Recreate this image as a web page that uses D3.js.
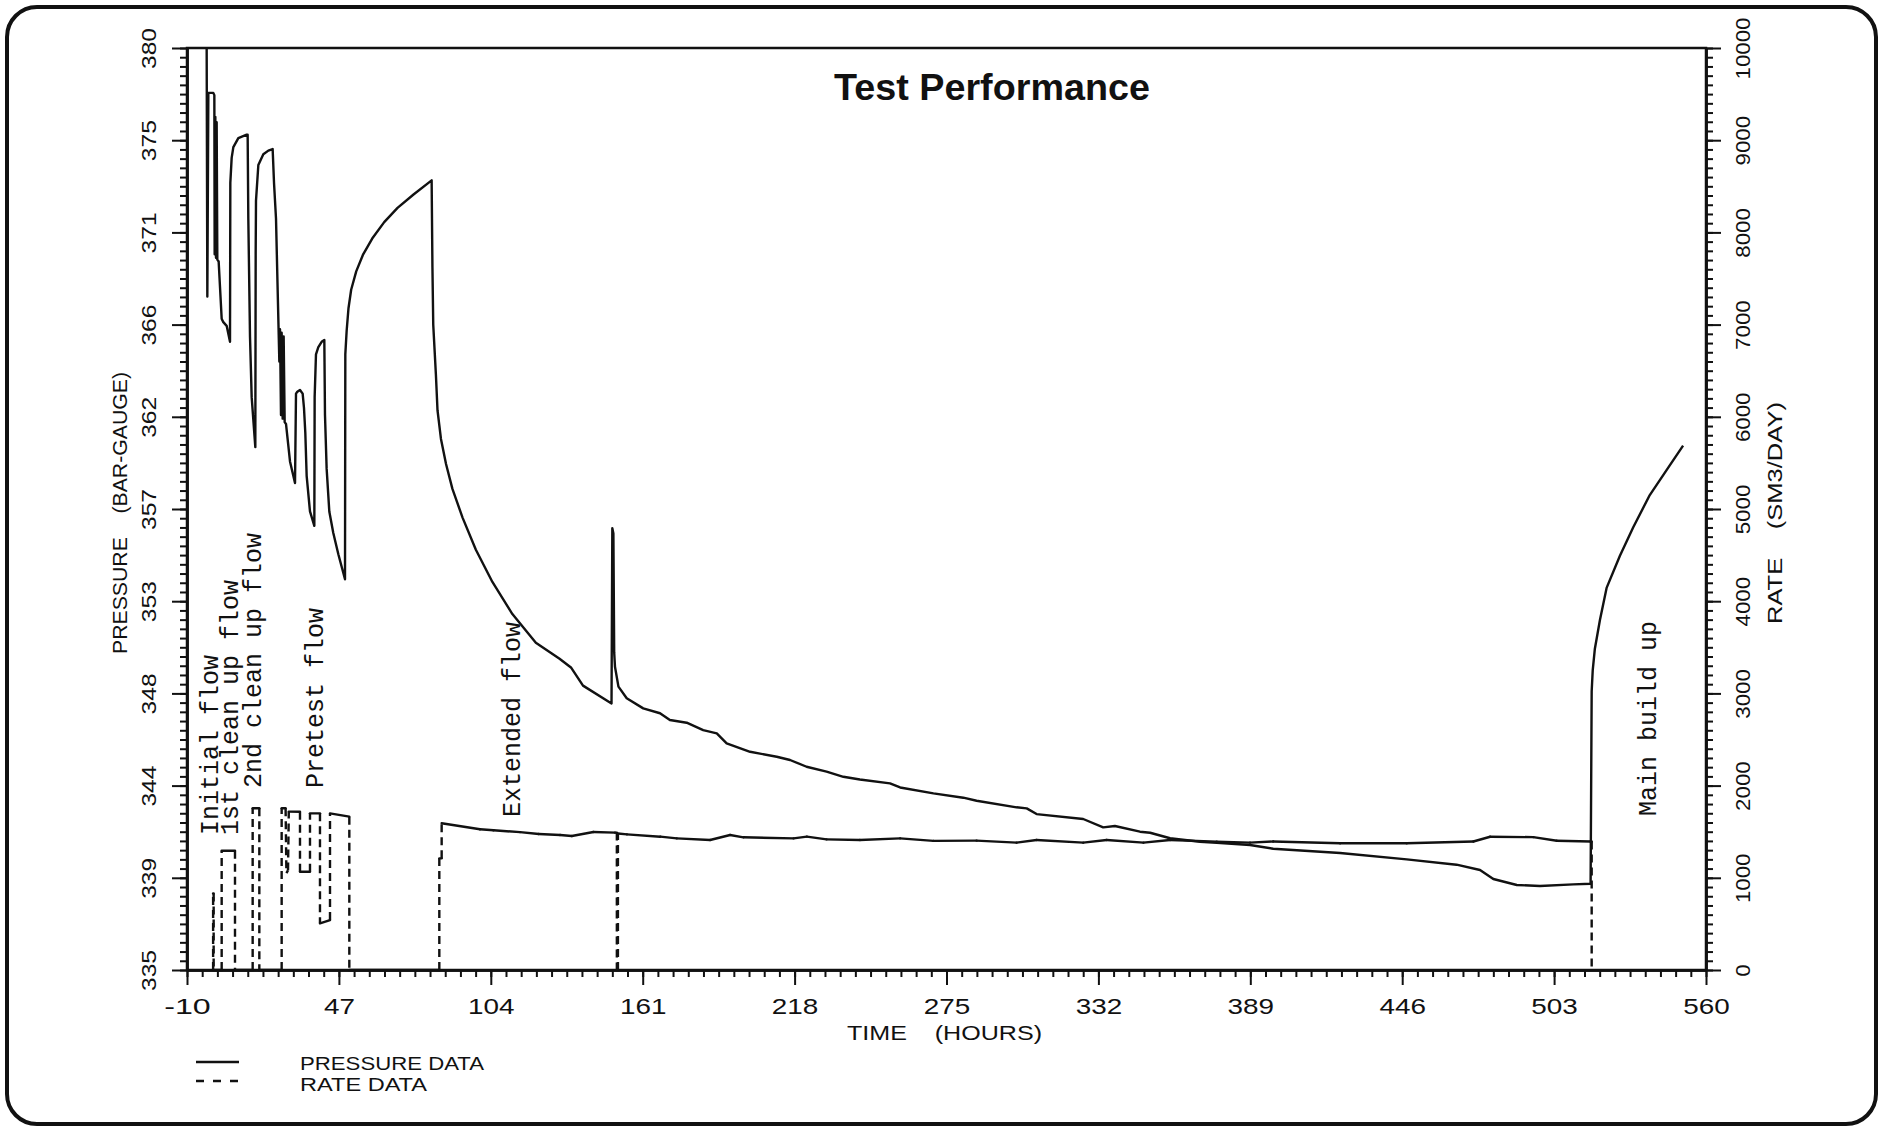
<!DOCTYPE html>
<html><head><meta charset="utf-8">
<script src="https://cdn.jsdelivr.net/npm/d3@7"></script>
<style>
html,body{margin:0;padding:0;background:#fff;}
svg{display:block;}
text{fill:#111;}
</style></head>
<body><svg id="chart" width="1883" height="1130"></svg>
<script>
// ---------- tick values / labels ----------
const timeTicks = [-10, 47, 104, 161, 218, 275, 332, 389, 446, 503, 560];
const pressureTicks = [335, 339.5, 344, 348.5, 353, 357.5, 362, 366.5, 371, 375.5, 380];
const pressureTickLabels = ["335","339","344","348","353","357","362","366","371","375","380"];
const rateTicks = [0,1000,2000,3000,4000,5000,6000,7000,8000,9000,10000];

// ---------- pressure series (hours, bar-gauge) ----------
const pressureHours = [-2.62,-2.37,-1.99,-0.12,0.26,0.38,0.63,0.88,1.13,1.38,1.88,3.01,3.63,4.88,6.14,6.26,6.76,7.39,9.26,12.39,
  12.76,13.01,13.64,14.27,15.64,15.77,15.89,16.77,18.64,20.52,22.14,22.65,23.4,24.02,24.65,24.9,25.27,25.52,25.9,26.27,
  26.65,27.15,28.65,30.53,30.9,31.4,32.4,33.4,33.9,34.4,34.9,36.15,37.78,37.9,38.4,39.28,40.53,41.53,41.78,42.4,
  43.4,44.9,46.79,49.29,49.41,49.91,50.6,51.6,53.5,56.0,59.5,64.0,69.0,75.0,81.8,82.1,82.4,83.4,84.0,85.3,87.2,89.6,
  93.4,98.4,104.6,112.1,120.9,129.8,134.2,138.6,149.3,149.6,150.0,150.3,150.6,151.9,155.0,161.2,167.5,171.2,177.5,183.7,
  188.8,192.5,201.3,211.3,216.3,222.5,230.0,236.3,242.5,253.8,257.6,270.1,281.3,286.3,301.3,305.1,308.8,326.3,333.8,338.2,
  347.6,351.4,358.9,370.1,376.4,388.9,397.6,422.7,447.7,466.4,475.2,480.2,489.0,497.7,510.2,516.7,517.1,517.5,518.3,520.2,
  522.7,527.7,532.7,538.9,545.2,551.4];
const pressureBar = [380.0,367.87,377.81,377.81,377.7,369.93,376.64,369.76,376.38,369.67,369.58,366.79,366.62,366.44,365.66,373.42,374.64,375.16,375.6,375.77,
  375.77,371.67,365.92,362.96,360.52,369.93,372.55,374.29,374.81,374.99,375.07,373.42,371.67,368.19,364.7,366.27,362.09,366.1,361.91,365.92,
  361.74,361.65,359.82,358.77,363.13,363.22,363.31,363.13,362.43,361.21,359.12,357.38,356.68,362.96,365.05,365.4,365.66,365.75,362.09,359.47,
  357.38,356.33,355.29,354.07,365.05,366.2,367.3,368.2,369.1,369.9,370.7,371.5,372.2,372.85,373.54,369.3,366.5,364.06,362.32,360.92,359.7,358.48,
  357.08,355.51,353.94,352.37,350.97,350.19,349.75,348.88,348.01,356.56,356.3,350.5,349.8,348.83,348.26,347.77,347.53,347.2,347.07,346.71,
  346.55,346.06,345.65,345.41,345.25,344.92,344.68,344.43,344.3,344.11,343.91,343.62,343.41,343.26,342.94,342.89,342.61,342.37,341.96,342.03,
  341.75,341.7,341.43,341.26,341.21,341.1,340.92,340.71,340.4,340.14,339.88,339.44,339.15,339.1,339.18,339.21,348.6,349.64,350.68,352.08,
  353.65,355.22,356.61,358.18,359.4,360.59];

// ---------- rate series (hours, SM3/day) ----------
const rateHours = [-0.2,-0.2,0.0,0.0,3.01,3.01,8.01,8.01,14.64,14.64,17.14,17.14,25.52,25.52,27.0,27.3,27.9,28.2,32.4,32.4,
  36.15,36.15,39.9,39.9,43.66,43.66,50.91,50.91,84.68,84.68,85.56,85.56,99.95,105,115,122,130,134.4,142.5,150.6,
  151.3,151.3,151.7,151.7,155.1,167.6,173.8,186.3,193.8,198.8,217.6,222.6,230.0,242.5,257.6,270.1,286.3,301.3,308.8,326.3,
  335.1,348.9,358.9,376.4,388.9,397.6,422.7,447.7,472.7,479.0,495.2,504.0,516.7,517.1,517.1];
const rateSm3 = [0,831,831,0,0,1294,1294,0,0,1754,1754,0,0,1754,1754,1050,1080,1718,1717,1066,
  1066,1699,1699,506,542,1699,1663,0,0,1211,1211,1591,1526,1515,1495,1475,1464,1453,1497,1490,
  1490,0,0,1480,1471,1446,1428,1410,1464,1439,1428,1446,1417,1410,1428,1400,1403,1381,1410,1381,
  1410,1381,1410,1392,1381,1394,1375,1375,1394,1445,1441,1402,1394,1394,0];

// ---------- annotations ----------
const phaseLabels = ["Initial flow","1st clean up flow","2nd clean up flow","Pretest flow","Extended flow","Main build up"];
const phaseHours  = [1.8, 9.3, 17.8, 41.0, 114.8, 541.2];
const phasePressure = [341.59, 341.59, 343.88, 343.88, 342.47, 342.52];

const ink = "#111";
const svg = d3.select("#chart");
const x  = d3.scaleLinear().domain([-10, 560]).range([187, 1706]);
const yP = d3.scaleLinear().domain([335, 380]).range([970, 48]);
const yR = d3.scaleLinear().domain([0, 10000]).range([970, 48]);

// outer rounded border
svg.append("rect").attr("x", 7).attr("y", 7).attr("width", 1869).attr("height", 1117)
  .attr("rx", 30).attr("fill", "none").attr("stroke", ink).attr("stroke-width", 4);

// plot frame
svg.append("rect").attr("x", x(-10)).attr("y", yP(380))
  .attr("width", x(560) - x(-10)).attr("height", yP(335) - yP(380))
  .attr("fill", "none").attr("stroke", ink).attr("stroke-width", 2.5);

function styleAxis(g) {
  g.select(".domain").attr("stroke", ink).attr("stroke-width", 2.5);
  g.selectAll(".tick line").attr("stroke", ink).attr("stroke-width", 2);
}
const tickFont = "'Liberation Sans', Arial, sans-serif";

// left axis (pressure)
svg.append("g").attr("transform", `translate(${x(-10)},0)`)
  .call(d3.axisLeft(yP).tickValues(d3.range(0, 101).map(i => 335 + 0.45 * i)).tickSize(7).tickSizeOuter(0).tickFormat(""))
  .call(styleAxis);
const gl = svg.append("g").attr("transform", `translate(${x(-10)},0)`)
  .call(d3.axisLeft(yP).tickValues(pressureTicks).tickSize(15).tickSizeOuter(0).tickFormat((d, i) => pressureTickLabels[i]))
  .call(styleAxis);
gl.selectAll(".tick text").attr("x", null).attr("dy", null)
  .attr("transform", "translate(-31,0) rotate(-90)").attr("text-anchor", "middle")
  .attr("font-family", tickFont).attr("font-size", 21).attr("fill", ink)
  .attr("textLength", 41).attr("lengthAdjust", "spacingAndGlyphs");

// bottom axis (time)
svg.append("g").attr("transform", `translate(0,${yP(335)})`)
  .call(d3.axisBottom(x).tickValues(d3.range(0, 101).map(i => -10 + 5.7 * i)).tickSize(7).tickSizeOuter(0).tickFormat(""))
  .call(styleAxis);
const gb = svg.append("g").attr("transform", `translate(0,${yP(335)})`)
  .call(d3.axisBottom(x).tickValues(timeTicks).tickSize(15).tickSizeOuter(0).tickFormat(d => String(d)))
  .call(styleAxis);
gb.selectAll(".tick text").attr("y", 28).attr("dy", "0.71em")
  .attr("font-family", tickFont).attr("font-size", 22).attr("fill", ink)
  .attr("textLength", d => String(d).length * 15.5).attr("lengthAdjust", "spacingAndGlyphs");

// right axis (rate)
svg.append("g").attr("transform", `translate(${x(560)},0)`)
  .call(d3.axisRight(yR).tickValues(d3.range(0, 101).map(i => 100 * i)).tickSize(7).tickSizeOuter(0).tickFormat(""))
  .call(styleAxis);
const gr = svg.append("g").attr("transform", `translate(${x(560)},0)`)
  .call(d3.axisRight(yR).tickValues(rateTicks).tickSize(15).tickSizeOuter(0).tickFormat(d => String(d)))
  .call(styleAxis);
gr.selectAll(".tick text").attr("x", null).attr("dy", null)
  .attr("transform", "translate(44,0) rotate(-90)").attr("text-anchor", "middle")
  .attr("font-family", tickFont).attr("font-size", 21).attr("fill", ink)
  .attr("textLength", d => String(d).length * 12.4).attr("lengthAdjust", "spacingAndGlyphs");

// axis titles
function label(txt, tx, ty, rot, len, size) {
  svg.append("text").attr("transform", `translate(${tx},${ty}) rotate(${rot})`)
    .attr("font-family", tickFont).attr("font-size", size).attr("fill", ink)
    .style("white-space", "pre").attr("textLength", len).attr("lengthAdjust", "spacingAndGlyphs")
    .text(txt);
}
label("PRESSURE    (BAR-GAUGE)", 127, 654, -90, 282, 20);
label("RATE    (SM3/DAY)", 1782, 624, -90, 222, 20);
label("TIME    (HOURS)", 847, 1040, 0, 195, 20);

// title
svg.append("text").attr("x", 992).attr("y", 100).attr("text-anchor", "middle")
  .attr("font-family", tickFont).attr("font-weight", "bold").attr("font-size", 36).attr("fill", ink)
  .attr("textLength", 316).attr("lengthAdjust", "spacingAndGlyphs")
  .text("Test Performance");

// pressure line
const pLine = d3.line().x((d, i) => x(pressureHours[i])).y((d, i) => yP(pressureBar[i]));
svg.append("path").attr("d", pLine(pressureHours))
  .attr("fill", "none").attr("stroke", ink).attr("stroke-width", 2.4).attr("stroke-linejoin", "round");

// rate line: each plotted segment restarts its dash pattern
const ratePts = rateHours.map((t, i) => [x(t), yR(rateSm3[i])]);
const segs = d3.pairs(ratePts);
const segLine = d3.line();
const isVert = d => Math.abs(d[1][1] - d[0][1]) > Math.abs(d[1][0] - d[0][0]);
svg.append("g").selectAll("path").data(segs).join("path")
  .attr("d", d => segLine(d))
  .attr("fill", "none").attr("stroke", ink).attr("stroke-width", 2.4)
  .attr("stroke-linecap", d => isVert(d) ? "butt" : "round")
  .attr("stroke-dasharray", d => isVert(d) ? "8,5" : null);

// phase annotations
svg.append("g").selectAll("text").data(phaseLabels).join("text")
  .attr("transform", (d, i) => `translate(${x(phaseHours[i])},${yP(phasePressure[i])}) rotate(-90)`)
  .attr("font-family", "'Liberation Mono', 'Courier New', monospace").attr("font-size", 25).attr("fill", ink)
  .text(d => d);

// legend
svg.append("line").attr("x1", 196).attr("x2", 239).attr("y1", 1062).attr("y2", 1062)
  .attr("stroke", ink).attr("stroke-width", 2.4);
svg.append("line").attr("x1", 196).attr("x2", 239).attr("y1", 1081).attr("y2", 1081)
  .attr("stroke", ink).attr("stroke-width", 2.4).attr("stroke-dasharray", "8,9");
label("PRESSURE DATA", 300, 1070, 0, 184, 19);
label("RATE DATA", 300, 1091, 0, 127, 19);
</script>
</body></html>
